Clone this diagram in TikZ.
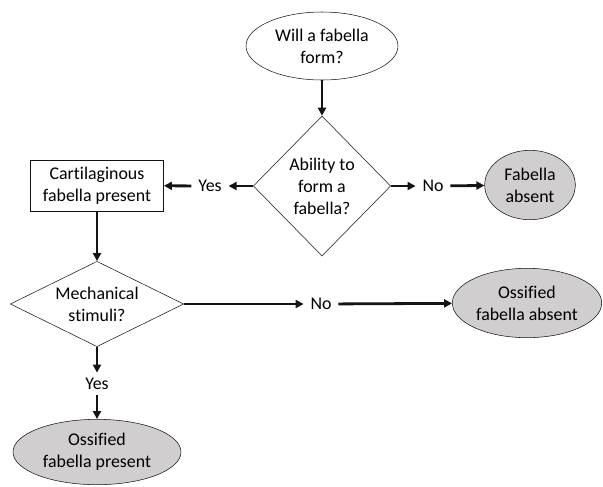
\documentclass[tikz,border=0pt]{standalone}
\usepackage{fontspec}
\setmainfont[Ligatures=NoCommon]{Carlito}
\usepackage{tikz}
\usepackage{xcolor}
\usetikzlibrary{shapes,arrows.meta,positioning,shapes.geometric}
\definecolor{outline}{RGB}{20, 20, 20}
\definecolor{shade}{RGB}{208, 206, 206}
\tikzstyle{arrow} = [
    line width=2.1pt,
    -{Triangle[length=6pt,width=6pt]},
    draw=outline
]
\tikzstyle{start} = [
    ellipse,
    draw=outline,
    fill=white,
    align=center,
    inner sep=0pt
]
\tikzstyle{result} = [
    ellipse,
    draw=outline,
    fill=shade,
    align=center,
    inner sep=0pt
]
\tikzstyle{decision} = [
    diamond,
    draw=outline,
    align=center,
    inner sep=0pt
]
\tikzstyle{process} = [
    rectangle,
    draw=outline,
    align=center,
    minimum width=100pt,
    minimum height=38pt
]
\tikzstyle{answer} = [
    inner xsep=5pt,
    inner ysep=4pt
]

\begin{document}
\begin{tikzpicture}[
        x=0.75pt, y=-0.75pt,
        every node/.style={font=\fontsize{13.4}{16.5}\selectfont}
    ]
        \useasboundingbox (0,0) rectangle (603,486);
        % first question
        \node[start, minimum width=114pt, minimum height=51pt] (form) at (322,46) {Will a fabella\\form?};
        \node[decision, minimum width=103pt, minimum height=105pt] (ability) at (322,186) {Ability to\\form a\\fabella?};
        \draw[arrow] (form) -- (ability);
        % left branch
        \node[answer] (yes1) at (210,186) {Yes};
        \node[process] (cart) at (97,185.5) {Cartilaginous\\fabella present};
        \draw[arrow] (ability) -- (yes1);
        \draw[arrow] (yes1) -- (cart);
        % right branch
        \node[answer] (no1) at (433,186) {No};
        \node[result, minimum width=68pt, minimum height=52pt] (absent) at (530,185) {Fabella\\absent};
        \draw[arrow] (ability) -- (no1);
        \draw[arrow] (no1) -- (absent);
        % second question
        \node[decision, shape aspect=2, minimum width=130pt, minimum height=64pt] (stimuli) at (97,304) {Mechanical\\stimuli?};
        \draw[arrow] (cart) -- (stimuli);
        \node[answer] (no2) at (321,304) {No};
        \node[result, minimum width=112pt, minimum height=52pt] (ossabsent) at (527,303) {Ossified\\fabella absent};
        \draw[arrow] (stimuli) -- (no2);
        \draw[arrow] (no2) -- (ossabsent);
        \node[answer] (yes2) at (97,384) {Yes};
        \node[result, minimum width=126pt, minimum height=49pt] (osspresent) at (97,452) {Ossified\\fabella present};
        \draw[arrow] (stimuli) -- (yes2);
        \draw[arrow] (yes2) -- (osspresent);
    \end{tikzpicture}
\end{document}
